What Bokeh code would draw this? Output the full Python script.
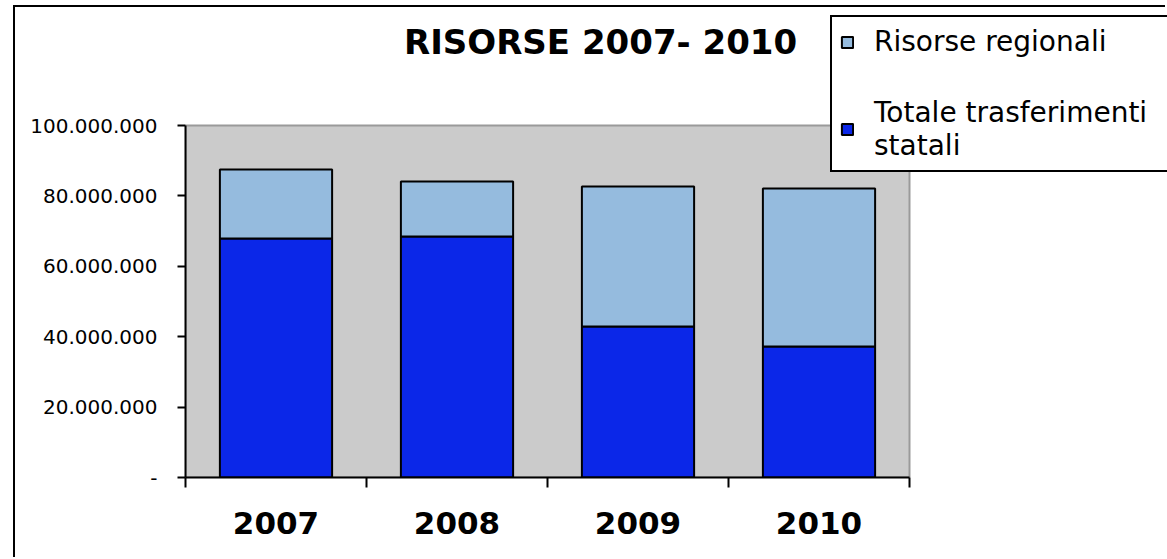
from bokeh.plotting import figure
from bokeh.models import (Range1d, FixedTicker, LinearAxis, Legend, LegendItem,
                          Label, ColumnDataSource)
from bokeh.embed import file_html
from bokeh.resources import INLINE

# ---- data ----
years = ["2007", "2008", "2009", "2010"]
trasferimenti_statali = [67900000, 68500000, 42900000, 37200000]
risorse_regionali = [19600000, 15600000, 39800000, 44900000]
y_ticks = [0, 20000000, 40000000, 60000000, 80000000, 100000000]
title_text = "RISORSE 2007- 2010"
legend_labels = ["Risorse regionali", "Totale trasferimenti\nstatali"]

def fmt(v):
    if v == 0:
        return "-"
    return f"{v:,}".replace(",", ".")

n = len(years)
y_max = y_ticks[-1]
x_pos = [i + 0.5 for i in range(n)]
src = ColumnDataSource(dict(x=x_pos, stat=trasferimenti_statali, reg=risorse_regionali))

# frame extends over title/legend area; plotting area is 0..n x 0..y_max
PLOT_W, PLOT_H = 724.0, 352.0
FRAME_W, FRAME_H = 982.0, 470.0

p = figure(width=1152, height=552, output_backend="svg", toolbar_location=None,
           x_range=Range1d(0, n * FRAME_W / PLOT_W),
           y_range=Range1d(0, y_max * FRAME_H / PLOT_H),
           min_border_left=170, min_border_right=0, min_border_top=0,
           min_border_bottom=82, x_axis_type=None, y_axis_type=None)
p.background_fill_color = "white"
p.border_fill_color = "white"
p.outline_line_color = None
p.xgrid.visible = False
p.ygrid.visible = False
p.styles = {"border-left": "2px solid black", "border-top": "2px solid black",
            "margin-left": "13px", "margin-top": "5px"}

# grey plotting area
p.quad(left=[0], right=[n], bottom=[0], top=[y_max], fill_color="#cbcbcb",
       line_color="#9a9a9a", line_width=2)

r = p.vbar_stack(["stat", "reg"], x="x", width=0.62, source=src,
                 color=["#0b27e8", "#95bbde"], line_color="black", line_width=2)

# y axis
yax = LinearAxis(ticker=FixedTicker(ticks=y_ticks, minor_ticks=[]), bounds=(0, y_max))
yax.major_label_overrides = {t: fmt(t) for t in y_ticks}
yax.axis_line_color = "black"
yax.axis_line_width = 2
yax.major_tick_line_width = 2
yax.major_tick_in = 0
yax.major_tick_out = 8
yax.major_label_standoff = 20
yax.major_label_text_font = "DejaVu Sans"
yax.major_label_text_font_size = "20px"
yax.major_label_text_color = "black"
p.add_layout(yax, "left")

# x axis: ticks at category boundaries, labels at centres
xax = LinearAxis(ticker=FixedTicker(ticks=x_pos, minor_ticks=list(range(n + 1))), bounds=(0, n))
xax.major_label_overrides = {x: y for x, y in zip(x_pos, years)}
xax.axis_line_color = "black"
xax.axis_line_width = 2
xax.major_tick_in = 0
xax.major_tick_out = 0
xax.minor_tick_in = 0
xax.minor_tick_out = 10
xax.minor_tick_line_color = "black"
xax.minor_tick_line_width = 2
xax.major_label_standoff = 24
xax.major_label_text_font = "DejaVu Sans"
xax.major_label_text_font_style = "bold"
xax.major_label_text_font_size = "31px"
xax.major_label_text_color = "black"
p.add_layout(xax, "below")

# title
p.add_layout(Label(x=2.293, y=123580000, text=title_text, text_align="center",
                   text_baseline="middle", text_font="DejaVu Sans",
                   text_font_style="bold", text_font_size="34px", text_color="black"))

legend = Legend(items=[LegendItem(label=legend_labels[0], renderers=[r[1]]),
                       LegendItem(label=legend_labels[1], renderers=[r[0]])],
                location=(645, 305))
legend.label_text_font = "DejaVu Sans"
legend.label_text_font_size = "28px"
legend.label_text_line_height = 1.25
legend.label_text_color = "black"
legend.label_width = 286
legend.glyph_width = 14
legend.glyph_height = 14
legend.label_standoff = 20
legend.padding = 8
legend.spacing = 38
legend.margin = 0
legend.border_line_color = "black"
legend.border_line_alpha = 1
legend.border_line_width = 2
legend.background_fill_color = "white"
legend.background_fill_alpha = 1
p.add_layout(legend, "center")

open("out.html", "w").write(file_html(p, INLINE))
